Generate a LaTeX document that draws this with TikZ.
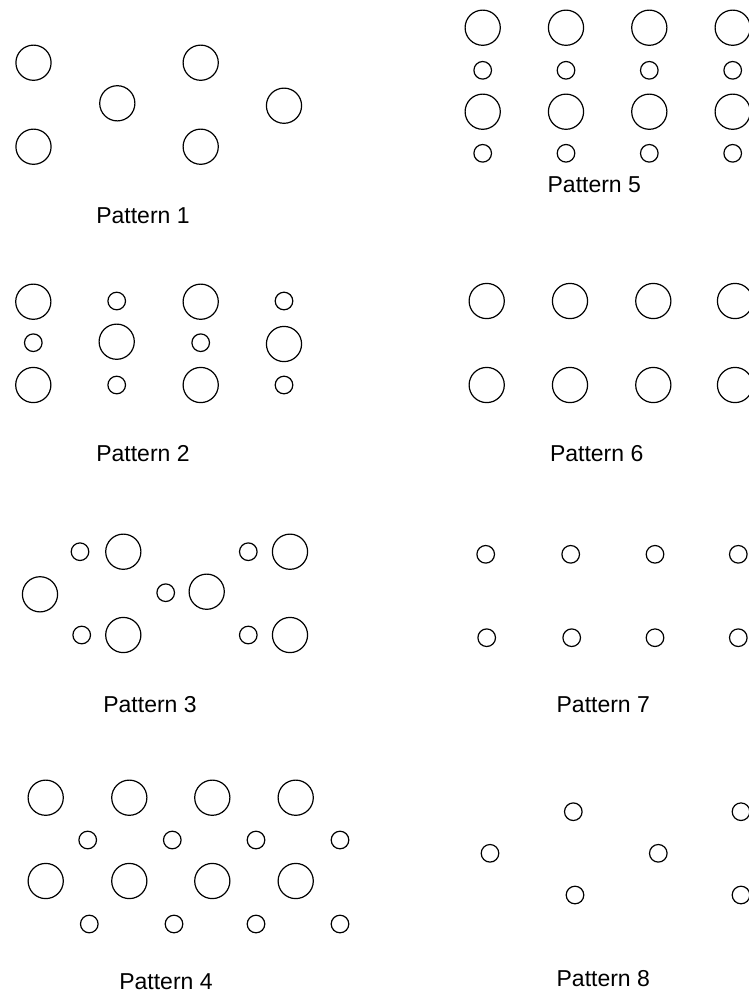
\documentclass[tikz,border=0pt]{standalone}
\usepackage{fontspec}
\setmainfont{Liberation Sans}
\usepackage{tikz}
\usetikzlibrary{positioning}
\tikzset{
  bigdot/.style={
    draw, circle, line width=0.6pt,
    minimum size=17.6pt, inner sep=0pt
  },
  smalldot/.style={
    draw, circle, line width=0.6pt,
    minimum size=8.8pt, inner sep=0pt
  },
  caption/.style={font=\fontsize{11.5}{13}\selectfont, inner sep=0pt}
}

\begin{document}
\begin{tikzpicture}[x=0.5pt, y=-0.5pt]
\clip (0,0) rectangle (749,992);

% Pattern 1
\node[bigdot] (a1) at (33.5,62.7) {};
\node[bigdot] (a2) at (33.5,146.7) {};
\node[bigdot] (a3) at (117.3,103.3) {};
\node[bigdot] (a4) at (200.7,62.7) {};
\node[bigdot] (a5) at (200.7,146.7) {};
\node[bigdot] (a6) at (284,105.7) {};
\node[caption] (capa) at (143,216) {Pattern 1};

% Pattern 2
\node[bigdot] (b1) at (33.3,301.7) {};
\node[smalldot] (b2) at (33.3,342.7) {};
\node[bigdot] (b3) at (33.3,385) {};
\node[smalldot] (b4) at (116.7,301) {};
\node[bigdot] (b5) at (116.7,341.7) {};
\node[smalldot] (b6) at (116.7,385) {};
\node[bigdot] (b7) at (200.7,301.7) {};
\node[smalldot] (b8) at (200.7,342.7) {};
\node[bigdot] (b9) at (200.7,385) {};
\node[smalldot] (b10) at (284,301) {};
\node[bigdot] (b11) at (284,344) {};
\node[smalldot] (b12) at (284,385) {};
\node[caption] (capb) at (143,454) {Pattern 2};

% Pattern 3
\node[bigdot] (c1) at (40,594.3) {};
\node[smalldot] (c2) at (80,551.7) {};
\node[bigdot] (c3) at (123.3,551.7) {};
\node[smalldot] (c4) at (81.7,635) {};
\node[bigdot] (c5) at (123.3,635) {};
\node[smalldot] (c6) at (165.7,592.7) {};
\node[bigdot] (c7) at (206.7,591.7) {};
\node[smalldot] (c8) at (248.3,551.7) {};
\node[bigdot] (c9) at (290,551.7) {};
\node[smalldot] (c10) at (248.3,635) {};
\node[bigdot] (c11) at (290,635) {};
\node[caption] (capc) at (150,705) {Pattern 3};

% Pattern 4
\foreach \i/\x in {1/45.7, 2/129.3, 3/212.3, 4/295.7} {
  \node[bigdot] (d\i) at (\x,797.7) {};
  \node[bigdot] (dd\i) at (\x,881) {};
}
\foreach \i/\x/\xx in {1/87.7/89.3, 2/172.3/174, 3/256/256, 4/340/340} {
  \node[smalldot] (ds\i) at (\x,840) {};
  \node[smalldot] (dds\i) at (\xx,924) {};
}
\node[caption] (capd) at (166,981.7) {Pattern 4};

% Pattern 5
\foreach \i/\x in {1/482.7, 2/566, 3/649.3, 4/732.7} {
  \node[bigdot] (e\i) at (\x,27.7) {};
  \node[smalldot] (es\i) at (\x,70.3) {};
  \node[bigdot] (ee\i) at (\x,111.7) {};
  \node[smalldot] (ees\i) at (\x,153.3) {};
}
\node[caption] (cape) at (594.3,185) {Pattern 5};

% Pattern 6
\foreach \i/\x in {1/486.7, 2/570, 3/653.3, 4/735} {
  \node[bigdot] (f\i) at (\x,301) {};
  \node[bigdot] (ff\i) at (\x,385) {};
}
\node[caption] (capf) at (596.7,454) {Pattern 6};

% Pattern 7
\foreach \i/\x/\xx in {1/485.7/486.7, 2/570.7/571.7, 3/655/655, 4/738.3/738.3} {
  \node[smalldot] (g\i) at (\x,554.3) {};
  \node[smalldot] (gg\i) at (\xx,637.7) {};
}
\node[caption] (capg) at (603.3,705) {Pattern 7};

% Pattern 8
\node[smalldot] (h1) at (490,853.3) {};
\node[smalldot] (h2) at (573.3,811.7) {};
\node[smalldot] (h3) at (575,895) {};
\node[smalldot] (h4) at (658.3,853.3) {};
\node[smalldot] (h5) at (741,811.7) {};
\node[smalldot] (h6) at (741,895) {};
\node[caption] (caph) at (603.3,978.3) {Pattern 8};

\end{tikzpicture}
\end{document}
